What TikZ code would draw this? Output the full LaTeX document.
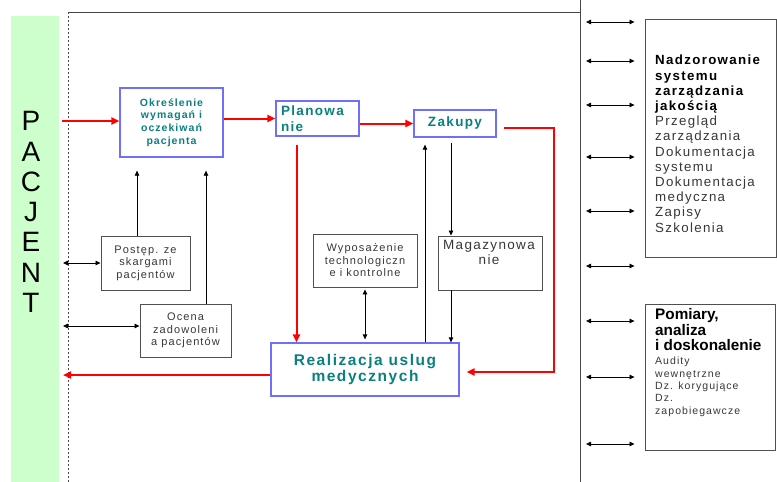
\documentclass[tikz,border=0pt]{standalone}
\usepackage{fontspec}
\setmainfont{Liberation Sans}
\newfontfamily\lsp[LetterSpace=10]{Liberation Sans}
\usetikzlibrary{arrows.meta}
\definecolor{pacgreen}{RGB}{204,255,204}
\definecolor{tealtxt}{RGB}{10,128,128}
\definecolor{boxblue}{RGB}{110,110,255}
\definecolor{redline}{RGB}{255,0,0}
\definecolor{boxgray}{RGB}{80,80,80}
\definecolor{graytxt}{RGB}{55,55,55}
\definecolor{frame}{RGB}{70,70,70}
\tikzset{
  bluebox/.style={draw=boxblue, line width=1.3pt, fill=white, text=tealtxt, align=center, inner sep=0pt},
  graybox/.style={draw=boxgray, line width=0.9pt, text=graytxt, align=center, inner sep=0pt},
  redarrow/.style={draw=redline, line width=2pt, -{Triangle[length=8pt,width=7pt]}},
  blk/.style={draw=black, line width=0.8pt, -{Triangle[length=5pt,width=4.5pt]}},
  blk2/.style={draw=black, line width=0.8pt, {Triangle[length=5pt,width=4.5pt]}-{Triangle[length=5pt,width=4.5pt]}},
  plaintxt/.style={inner sep=0pt, align=left, anchor=north west}
}
\begin{document}
\begin{tikzpicture}[x=1pt,y=-1pt]
\useasboundingbox (0,0) rectangle (777,482);
% patient bar
\node[fill=pacgreen, draw=none, minimum width=48pt, minimum height=466pt, inner sep=0pt, anchor=north west] (pac) at (11,16) {};
\node[font=\fontsize{28}{30.3}\selectfont, align=center, inner sep=0pt] (pacjent) at (31,212) {P\\A\\C\\J\\E\\N\\T};
% frame lines
\coordinate (dtop) at (68,12);
\coordinate (dbot) at (68,482);
\coordinate (vtop) at (580,0);
\coordinate (vbot) at (580,482);
\draw[frame, line width=0.8pt, dash pattern=on 2pt off 2pt] (dtop) -- (dbot);
\draw[frame, line width=0.8pt] (dtop) -- (dtop -| vtop);
\draw[frame, line width=1pt] (vtop) -- (vbot);
% blue boxes
\node[bluebox, minimum width=103pt, minimum height=69pt, font=\lsp\bfseries\fontsize{10.5}{12.7}\selectfont] (okr) at (171.5,122.5) {Określenie\\wymagań i\\oczekiwań\\pacjenta};
\node[bluebox, minimum width=83pt, minimum height=35pt, font=\lsp\bfseries\fontsize{13.5}{16}\selectfont] (plan) at (317.5,118.5) {\makebox[73pt][l]{Planowa}\\\makebox[73pt][l]{nie}};
\node[bluebox, minimum width=82pt, minimum height=27pt, font=\lsp\bfseries\fontsize{13.5}{16}\selectfont] (zak) at (455,123.5) {Zakupy};
\node[bluebox, minimum width=188pt, minimum height=53pt, font=\lsp\bfseries\fontsize{15.5}{16}\selectfont] (real) at (365,369.5) {Realizacja uslug\\medycznych};
% gray boxes
\node[graybox, minimum width=89pt, minimum height=54pt, font=\lsp\fontsize{11}{12.5}\selectfont] (post) at (145.5,263) {Postęp. ze\\skargami\\pacjentów};
\node[graybox, minimum width=91pt, minimum height=53pt, font=\lsp\fontsize{11}{12.5}\selectfont] (ocena) at (185.5,330.5) {Ocena\\zadowoleni\\a pacjentów};
\node[graybox, minimum width=104pt, minimum height=53pt, font=\lsp\fontsize{11}{12.5}\selectfont] (wyp) at (365,260.5) {Wyposażenie\\technologiczn\\e i kontrolne};
\node[graybox, minimum width=104pt, minimum height=54pt] (mag) at (490,263) {};
\node[text=graytxt, align=center, inner sep=0pt, font=\lsp\fontsize{13.5}{15}\selectfont] (magt) at (489,252.5) {Magazynowa\\nie};
% right boxes
\node[graybox, minimum width=131pt, minimum height=238pt] (nad) at (710.5,138) {};
\node[plaintxt, font=\lsp\fontsize{13.3}{15.2}\selectfont, text=graytxt] (nadt) at (655,55) {\textcolor{black}{\textbf{Nadzorowanie}}\\\textcolor{black}{\textbf{systemu}}\\\textcolor{black}{\textbf{zarządzania}}\\\textcolor{black}{\textbf{jakością}}\\Przegląd\\zarządzania\\Dokumentacja\\systemu\\Dokumentacja\\medyczna\\Zapisy\\Szkolenia};
\node[graybox, minimum width=130pt, minimum height=146pt] (pom) at (710,377) {};
\node[plaintxt, font=\bfseries\fontsize{15.3}{15.5}\selectfont] (pomt1) at (655,308.5) {Pomiary,\\analiza\\i doskonalenie};
\node[plaintxt, font=\lsp\fontsize{10.5}{12.3}\selectfont, text=graytxt] (pomt2) at (655,357) {Audity\\wewnętrzne\\Dz. korygujące\\Dz.\\zapobiegawcze};
% red flow
\coordinate (in1) at (62,121);
\coordinate (out1) at (63,375);
\coordinate (rc) at (554,372);
\draw[redarrow] (in1) -- (in1 -| okr.west);
\draw[redarrow] (okr.east |- plan.west) -- (plan.west);
\draw[redarrow] (plan.east |- zak.west) -- (zak.west);
\draw[redarrow] ([xshift=-21pt,yshift=-8pt]plan.south) -- ([xshift=-21pt]plan.south |- real.north);
\draw[redarrow] ([xshift=7pt,yshift=-4.5pt]zak.east) -| (rc) -- ([xshift=7pt]rc -| real.east);
\draw[redarrow] ([yshift=-5.5pt]real.west) -- (out1);
% black connectors
\draw[blk, shorten >=13pt] ([xshift=-8.5pt]post.north) -- ([xshift=-8.5pt]post.north |- okr.south);
\draw[blk, shorten >=13pt] ([xshift=20.5pt]ocena.north) -- ([xshift=20.5pt]ocena.north |- okr.south);
\coordinate (lp) at (63,263);
\coordinate (lo) at (63,326);
\draw[blk2] (lp) -- (lp -| post.west);
\draw[blk2] (lo) -- (lo -| ocena.west);
\draw[blk2] ([yshift=-2pt]wyp.south) -- ([yshift=3pt]wyp.south |- real.north);
\coordinate (zx) at ([xshift=-4pt]zak.south);
\draw[blk] ([yshift=-5pt]zx) -- (zx |- mag.north);
\draw[blk] (zx |- mag.south) -- (zx |- real.north);
\draw[blk, shorten >=7pt] ([xshift=60pt]real.north) -- ([xshift=60pt]real.north |- zak.south);
% right double arrows
\foreach \yy/\bx in {22/nad,61/nad,105/nad,157/nad,211/nad,266/nad,321/pom,377/pom,444/pom}{
  \draw[blk2, shorten <=6pt, shorten >=10pt] (vtop |- 0,\yy) -- (\bx.west |- 0,\yy);
}
\end{tikzpicture}
\end{document}
